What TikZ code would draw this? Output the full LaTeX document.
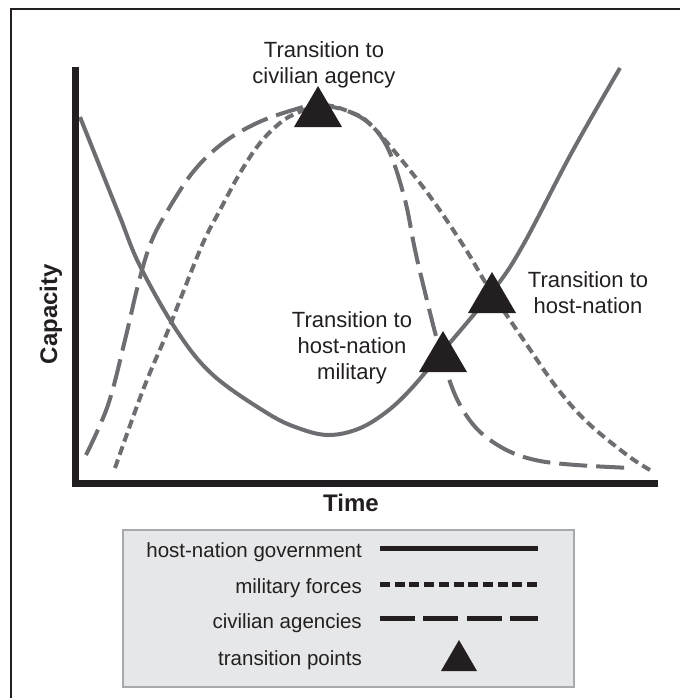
\documentclass[tikz,border=0pt]{standalone}
\usepackage{fontspec}
\setmainfont{Liberation Sans}
\definecolor{curvegray}{RGB}{109,110,113}
\definecolor{ink}{RGB}{35,31,32}
\definecolor{legfill}{RGB}{230,231,232}
\definecolor{legdraw}{RGB}{167,169,172}
\begin{document}
\begin{tikzpicture}[x=1pt,y=-1pt,
  curve/.style={line width=4pt, color=curvegray},
  govline/.style={curve},
  milline/.style={curve, dash pattern=on 9pt off 5pt},
  civline/.style={curve, dash pattern=on 28pt off 9pt},
  axis/.style={line width=7pt, color=ink},
  lbl/.style={font=\fontsize{22}{26}\selectfont, align=center, inner sep=0pt, text=ink},
  axlbl/.style={font=\fontsize{24}{28}\selectfont\bfseries, inner sep=0pt, text=ink},
  legtext/.style={font=\fontsize{20.5}{24}\selectfont, inner sep=0pt, anchor=base east, text=ink},
  legline/.style={line width=5pt, color=ink},
  tri/.pic={\fill[ink] (-24,0) -- (0,-41) -- (24,0) -- cycle;},
  smalltri/.pic={\fill[ink] (-18,0) -- (0,-31) -- (18,0) -- cycle;}
]
\useasboundingbox (0,0) rectangle (680,698);
% frame (cropped)
\draw[line width=2.5pt, color=ink] (11,698) -- (11,9) -- (680,9);

% curves
\draw[govline] plot[smooth, tension=0.6] coordinates {(80,117) (100,167) (120,217) (140,266) (177,331) (213,375) (267,413) (298,428) (328,435) (358,429) (385,413) (410,390) (443,351) (492,292) (522,247) (572,152) (620,68)};
\draw[civline] plot[smooth, tension=0.6] coordinates {(86,455) (108,405) (125,340) (138,285) (150,245) (165,215) (193,172) (223,143) (257,123) (293,110) (318,105) (350,112) (373,127) (390,153) (405,200) (414,245) (422,280) (440,350) (460,405) (490,440) (540,461) (633,468)};
\draw[milline] plot[smooth, tension=0.6] coordinates {(115,468) (143,390) (167,333) (180,300) (203,243) (220,210) (240,173) (260,143) (280,123) (297,113) (322,105) (350,112) (373,127) (423,187) (463,245) (490,290) (527,345) (557,388) (587,422) (627,455) (650,470)};

% axes
\coordinate (ytop) at (75,67);
\coordinate (orig) at (75,483);
\coordinate (xend) at (658,483);
\draw[axis] (ytop) -- (75,486.5);
\draw[axis] (71.5,483) -- (xend);

% transition points
\pic at (318,127) {tri};
\pic at (492,313) {tri};
\pic at (443,372) {tri};

% labels
\node[lbl] (tciv) at (324,64.5) {Transition to\\civilian agency};
\node[lbl] (thn) at (588,293) {Transition to\\host-nation};
\node[lbl] (thnm) at (352,347.5) {Transition to\\host-nation\\military};
\node[axlbl, rotate=90] (cap) at (51,314) {Capacity};
\node[axlbl] (time) at (351,503) {Time};

% legend
\draw[line width=2.5pt, draw=legdraw, fill=legfill] (123,530) rectangle (574,687);
\node[legtext] (l1) at (362,557) {host-nation government};
\node[legtext] (l2) at (362,593) {military forces};
\node[legtext] (l3) at (362,628.5) {civilian agencies};
\node[legtext] (l4) at (362,665) {transition points};
\draw[legline] (380,548) -- (538,548);
\draw[legline, dash pattern=on 10pt off 4.7pt] (380,584) -- (538,584);
\draw[legline, dash pattern=on 35pt off 8.3pt] (380,618) -- (538,618);
\pic at (459,671) {smalltri};
\end{tikzpicture}
\end{document}
